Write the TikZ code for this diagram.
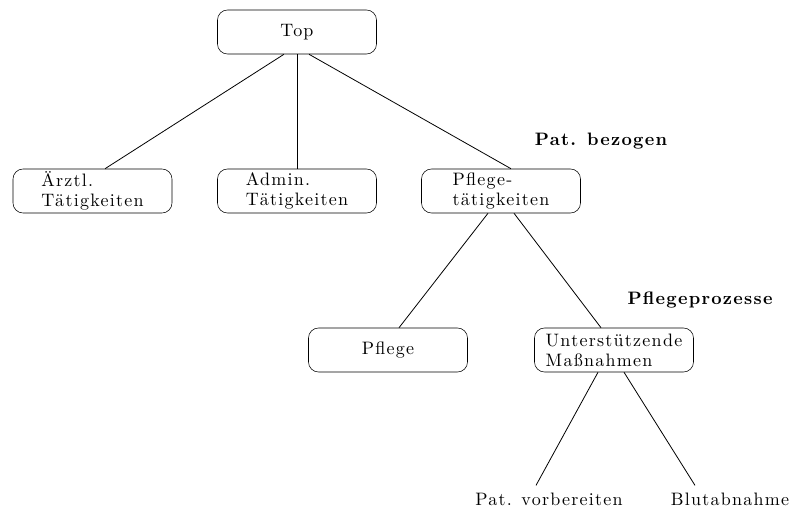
\documentclass[tikz,border=0pt]{standalone}
\usepackage{fontspec}
\setmainfont{Latin Modern Roman}
\newfontfamily\spacedrm{lmroman10-regular}[Extension=.otf, LetterSpace=7, BoldFont=lmroman10-bold]
\usetikzlibrary{calc}
\tikzset{
  box/.style={draw, rounded corners=7.5pt, minimum width=119.25pt, minimum height=33pt, align=left, inner sep=0pt, font=\spacedrm\fontsize{13.5}{15}\selectfont},
  leaf/.style={inner sep=3pt, font=\spacedrm\fontsize{13.5}{15}\selectfont},
  lbl/.style={inner sep=0pt, font=\spacedrm\fontsize{13.5}{15}\selectfont\bfseries},
  conn/.style={draw, line width=0.6pt}
}
\begin{document}
\begin{tikzpicture}[x=0.75pt, y=-0.75pt]
\useasboundingbox (0,0) rectangle (796,516);
\node[box] (top) at (297,32) {Top};
\node[box] (aerztl) at (92.5,191) {Ärztl.\\Tätigkeiten};
\node[box] (admin) at (297,191) {Admin.\\Tätigkeiten};
\node[box] (pflt) at (501,191) {Pflege-\\tätigkeiten};
\node[box] (pflege) at (388,350) {Pflege};
\node[box] (unter) at (614,350) {Unterstützende\\Maßnahmen};
\node[leaf] (leaf1) at (549,499) {Pat. vorbereiten};
\node[leaf] (leaf2) at (730,499) {Blutabnahme};
\node[lbl] (lb1) at (601,141) {Pat. bezogen};
\node[lbl] (lb2) at (700,300) {Pflegeprozesse};
\draw[conn] ($(top.south)+(-13,0)$) -- ($(aerztl.north)+(12.5,0)$);
\draw[conn] (top.south) -- (admin.north);
\draw[conn] ($(top.south)+(12,0)$) -- ($(pflt.north)+(10,0)$);
\draw[conn] ($(pflt.south)+(-13,0)$) -- ($(pflege.north)+(11,0)$);
\draw[conn] ($(pflt.south)+(13,0)$) -- ($(unter.north)+(-13,0)$);
\draw[conn] ($(unter.south)+(-16,0)$) -- ($(leaf1.north)+(-13,-3)$);
\draw[conn] ($(unter.south)+(10,0)$) -- ($(leaf2.north)+(-35,-3)$);
\end{tikzpicture}
\end{document}
